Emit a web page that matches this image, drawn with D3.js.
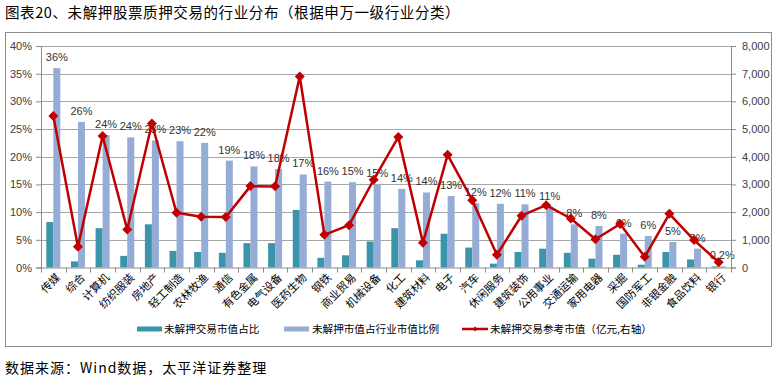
<!DOCTYPE html>
<meta charset="utf-8">
<html lang="zh">
<style>
body { margin: 0; background: #fff; }
text { font-family: "Noto Sans CJK SC", "Noto Sans", sans-serif; }
.axis path, .axis line { stroke: #8c8c8c; }
.axis text { fill: #404040; font-size: 11px; font-family: Arial, "Liberation Sans", sans-serif; }
.grid line { stroke: #a6a6a6; stroke-width: 1px; }
</style>
<body>
<script src="https://d3js.org/d3.v7.min.js"></script>
<script>

// industries (申万一级)
var cats = ["传媒","综合","计算机","纺织服装","房地产","轻工制造","农林牧渔","通信","有色金属","电气设备",
            "医药生物","钢铁","商业贸易","机械设备","化工","建筑材料","电子","汽车","休闲服务","建筑装饰",
            "公用事业","交通运输","家用电器","采掘","国防军工","非银金融","食品饮料","银行"];

// 未解押交易市值占比
var share = [0.082,0.011,0.071,0.021,0.078,0.030,0.028,0.0265,0.044,0.044,
             0.104,0.0175,0.022,0.047,0.071,0.013,0.061,0.036,0.007,0.028,
             0.034,0.0265,0.016,0.023,0.005,0.028,0.0145,0.002];

// 未解押市值占行业市值比例
var ratio = [0.360,0.263,0.239,0.235,0.2295,0.228,0.225,0.193,0.1825,0.178,
             0.168,0.155,0.154,0.151,0.142,0.1355,0.129,0.116,0.115,0.114,
             0.110,0.078,0.075,0.061,0.057,0.046,0.034,0.002];
var ratioLabels = ["36%","26%","24%","24%","23%","23%","22%","19%","18%","18%",
                   "17%","16%","15%","15%","14%","14%","13%","12%","12%","11%",
                   "11%","8%","8%","6%","6%","5%","3%","0.2%"];

// 未解押交易参考市值（亿元，右轴）
var value = [5470,750,4750,1370,5200,1975,1830,1820,2940,2930,
             6900,1180,1530,3170,4710,890,4070,2430,460,1870,
             2250,1770,1020,1570,385,1940,990,190];

var leftTicks = [0,0.05,0.10,0.15,0.20,0.25,0.30,0.35,0.40];
var rightTicks = [0,1000,2000,3000,4000,5000,6000,7000,8000];

var W = 778, H = 379;
var svg = d3.select("body").append("svg")
    .attr("width", W)
    .attr("height", H);

svg.append("rect").attr("width", W).attr("height", H).attr("fill", "#fff");

// title
svg.append("text")
    .attr("x", 5).attr("y", 18)
    .style("font-size", "14.5px").style("letter-spacing", "0.6px")
    .attr("fill", "#000")
    .text("图表20、未解押股票质押交易的行业分布（根据申万一级行业分类）");

// chart frame
svg.append("rect")
    .attr("x", 5.5).attr("y", 32.5)
    .attr("width", 766).attr("height", 314)
    .attr("fill", "none").attr("stroke", "#8c8c8c");

var pL = 41, pR = 731, pT = 46, pB = 267.5;

var x = d3.scaleBand().domain(cats).range([pL, pR]);
var bw = x.bandwidth();
var sub = d3.scaleBand().domain(["share","ratio"]).range([bw / 2 - 7, bw / 2 + 7]);
var yL = d3.scaleLinear().domain([0, 0.4]).range([pB, pT]);
var yR = d3.scaleLinear().domain([0, 8000]).range([pB, pT]);

// gridlines
svg.append("g").attr("class", "grid")
  .selectAll("line").data(leftTicks.slice(1)).enter().append("line")
    .attr("x1", pL).attr("x2", pR)
    .attr("y1", function(d) { return Math.round(yL(d)) + 0.5; })
    .attr("y2", function(d) { return Math.round(yL(d)) + 0.5; });

// bars
svg.append("g").selectAll("rect").data(share).enter().append("rect")
    .attr("x", function(d, i) { return x(cats[i]) + sub("share"); })
    .attr("y", function(d) { return yL(d); })
    .attr("width", sub.bandwidth())
    .attr("height", function(d) { return pB - yL(d); })
    .attr("fill", "#3a95aa");

svg.append("g").selectAll("rect").data(ratio).enter().append("rect")
    .attr("x", function(d, i) { return x(cats[i]) + sub("ratio"); })
    .attr("y", function(d) { return yL(d); })
    .attr("width", sub.bandwidth())
    .attr("height", function(d) { return pB - yL(d); })
    .attr("fill", "#95acd6");

// data labels
svg.append("g").selectAll("text").data(ratio).enter().append("text")
    .attr("x", function(d, i) { return x(cats[i]) + sub("ratio") + sub.bandwidth() / 2; })
    .attr("y", function(d) { return yL(d) - 7; })
    .attr("text-anchor", "middle")
    .style("font-size", "11px")
    .style("font-family", "Arial, 'Liberation Sans', sans-serif")
    .attr("fill", "#333")
    .text(function(d, i) { return ratioLabels[i]; });

// axes
svg.append("g").attr("class", "axis")
    .attr("transform", "translate(" + pL + ",0)")
    .call(d3.axisLeft(yL).tickValues(leftTicks).tickFormat(d3.format(".0%")).tickSizeOuter(0).tickSize(5).tickPadding(4));

svg.append("g").attr("class", "axis")
    .attr("transform", "translate(" + pR + ",0)")
    .call(d3.axisRight(yR).tickValues(rightTicks).tickFormat(d3.format(",")).tickSizeOuter(0).tickSize(5).tickPadding(6));

// x axis baseline and category separators
var xg = svg.append("g").attr("class", "axis");
xg.append("line")
    .attr("x1", pL).attr("x2", pR)
    .attr("y1", pB + 0.5).attr("y2", pB + 0.5);
xg.selectAll(".sep").data(cats.concat(["end"])).enter().append("line")
    .attr("class", "sep")
    .attr("x1", function(d, i) { return Math.round(pL + i * bw) + 0.5; })
    .attr("x2", function(d, i) { return Math.round(pL + i * bw) + 0.5; })
    .attr("y1", pB).attr("y2", pB + 5);

svg.append("g").selectAll("text").data(cats).enter().append("text")
    .attr("transform", function(d) {
      return "translate(" + (x(d) + bw / 2 + 5) + "," + (pB + 8) + ") rotate(-45)";
    })
    .attr("text-anchor", "end")
    .attr("dy", "0.35em")
    .style("font-size", "11px")
    .attr("fill", "#000")
    .text(function(d) { return d; });

// reference market value line
var line = d3.line()
    .x(function(d, i) { return x(cats[i]) + bw / 2; })
    .y(function(d) { return yR(d); });

svg.append("path")
    .datum(value)
    .attr("d", line)
    .attr("fill", "none")
    .attr("stroke", "#c00000")
    .attr("stroke-width", 2.5)
    .attr("stroke-linejoin", "round");

var diamond = d3.symbol().type(d3.symbolSquare).size(50);
svg.append("g").selectAll("path").data(value).enter().append("path")
    .attr("d", diamond)
    .attr("transform", function(d, i) {
      return "translate(" + (x(cats[i]) + bw / 2) + "," + yR(d) + ") rotate(45)";
    })
    .attr("fill", "#c00000");

// legend
var lg = svg.append("g").attr("transform", "translate(0,329)");
lg.append("rect").attr("x", 137).attr("y", -2.5).attr("width", 25).attr("height", 5).attr("fill", "#3a95aa");
lg.append("text").attr("x", 164).attr("dy", "0.35em").style("font-size", "10.6px").text("未解押交易市值占比");
lg.append("rect").attr("x", 284).attr("y", -2.5).attr("width", 25).attr("height", 5).attr("fill", "#95acd6");
lg.append("text").attr("x", 312).attr("dy", "0.35em").style("font-size", "10.6px").text("未解押市值占行业市值比例");
lg.append("line").attr("x1", 462).attr("x2", 488).attr("y1", 0).attr("y2", 0)
    .attr("stroke", "#c00000").attr("stroke-width", 2.5);
lg.append("path").attr("d", d3.symbol().type(d3.symbolSquare).size(12))
    .attr("transform", "translate(475,0) rotate(45)").attr("fill", "#c00000");
lg.append("text").attr("x", 490).attr("dy", "0.35em").style("font-size", "10.6px").text("未解押交易参考市值（亿元,右轴）");

// source
svg.append("text")
    .attr("x", 5).attr("y", 373)
    .style("font-size", "14px").style("letter-spacing", "1px")
    .attr("fill", "#000")
    .text("数据来源：Wind数据，太平洋证券整理");

</script>
</body>
</html>
